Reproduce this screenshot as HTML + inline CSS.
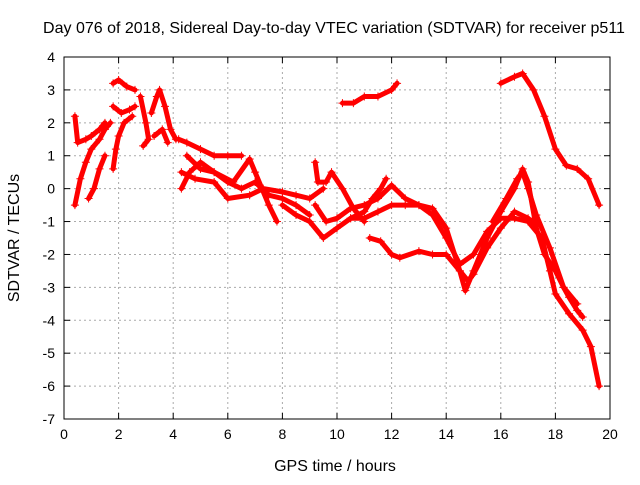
<!DOCTYPE html>
<html><head><meta charset="utf-8"><style>
body{margin:0;background:#fff;}
svg text{font-family:"Liberation Sans",sans-serif;font-size:14px;fill:#000;}
svg text.big{font-size:16px;}
</style></head><body>
<svg id="chart" width="640" height="480" xmlns="http://www.w3.org/2000/svg">
<rect width="640" height="480" fill="#fff"/>
<text class="big" x="334" y="33" text-anchor="middle">Day 076 of 2018, Sidereal Day-to-day VTEC variation (SDTVAR) for receiver p511</text>
<text class="big" x="335" y="471" text-anchor="middle">GPS time / hours</text>
<text class="big" transform="translate(19,238) rotate(-90)" text-anchor="middle">SDTVAR / TECUs</text>
<g id="grid"></g>
<g id="marks"></g>
<rect x="64" y="57" width="546" height="362" fill="none" stroke="#000" stroke-width="1"/>
</svg>
<script>
const xTicks=[0,2,4,6,8,10,12,14,16,18,20];
const yTicks=[4,3,2,1,0,-1,-2,-3,-4,-5,-6,-7];
const trackA=[[0.4,-0.5],[0.6,0.3],[0.8,0.8],[1.0,1.2],[1.3,1.5],[1.5,1.8],[1.7,2.0]];
const trackB=[[0.4,2.2],[0.5,1.4],[0.8,1.5],[1.0,1.6],[1.3,1.8],[1.5,2.0]];
const trackC=[[0.9,-0.3],[1.1,0.0],[1.3,0.6],[1.5,1.0]];
const trackD=[[1.8,0.6],[1.9,1.2],[2.0,1.6],[2.2,2.0],[2.5,2.2]];
const trackE=[[1.8,3.2],[2.0,3.3],[2.3,3.1],[2.6,3.0]];
const trackF=[[1.8,2.5],[2.1,2.3],[2.4,2.4],[2.6,2.5]];
const trackG=[[2.8,2.8],[3.0,2.0],[3.1,1.5],[2.9,1.3]];
const trackH=[[3.2,2.3],[3.4,2.8],[3.5,3.0],[3.7,2.5],[3.9,1.8],[4.1,1.5]];
const trackI=[[3.3,1.6],[3.6,1.8],[3.8,1.4]];
const trackJ=[[4.2,1.5],[4.5,1.4],[5.0,1.2],[5.5,1.0],[6.0,1.0],[6.5,1.0]];
const trackK=[[4.3,0.0],[4.6,0.5],[5.0,0.8],[5.5,0.5],[6.0,0.2],[6.5,0.0],[7.0,0.2],[7.5,-0.2],[8.0,-0.3],[8.5,-0.5],[9.0,-0.8]];
const trackL=[[4.3,0.5],[4.8,0.3],[5.5,0.2],[6.0,-0.3],[6.8,-0.2],[7.3,0.0],[8.0,-0.1],[8.5,-0.2],[9.0,-0.3],[9.5,0.0]];
const trackM=[[4.5,1.0],[5.0,0.6],[5.5,0.5],[6.2,0.2],[6.8,0.9],[7.0,0.5],[7.5,-0.5],[7.8,-1.0]];
const trackN=[[8.0,-0.5],[8.5,-0.8],[9.0,-1.0],[9.5,-1.5],[10,-1.2],[10.5,-0.9],[11,-0.9],[11.5,-0.7],[12,-0.5],[12.5,-0.5],[13,-0.5],[13.5,-0.8],[14,-1.5],[14.5,-2.3],[15,-2.0],[15.5,-1.3],[16,-0.9],[16.5,-0.9],[17,-1.0],[17.5,-1.5],[17.8,-2.5],[18,-3.2],[18.5,-3.8],[19,-4.3],[19.3,-4.8],[19.6,-6.0]];
const trackO=[[9.2,0.8],[9.3,0.2],[9.6,0.2],[9.8,0.5],[10.2,0.0],[10.6,-0.6],[11,-1.0]];
const trackP=[[9.2,-0.5],[9.6,-1.0],[10,-0.9],[10.5,-0.6],[11,-0.5],[11.5,-0.3],[12,0.1],[12.5,-0.3],[13,-0.5],[13.5,-0.6],[14,-1.2],[14.5,-2.5],[14.7,-3.1],[15,-2.5],[15.5,-1.5],[16,-0.7],[16.5,0.0],[16.8,0.6],[17,0.2],[17.3,-1.2],[17.6,-2.0],[18,-2.5],[18.3,-3.0],[18.5,-3.3],[18.8,-3.7],[19,-3.9]];
const trackQ=[[10.5,-0.9],[11,-0.7],[11.3,-0.3],[11.6,0.0],[11.8,0.3]];
const trackR=[[11.2,-1.5],[11.6,-1.6],[12,-2.0],[12.3,-2.1],[13,-1.9],[13.5,-2.0],[14,-2.0],[14.5,-2.5],[14.8,-2.8],[15,-2.6],[15.5,-1.8],[16,-1.2],[16.5,-0.7],[17,-0.9],[17.3,-1.1]];
const trackS=[[10.2,2.6],[10.6,2.6],[11,2.8],[11.5,2.8],[12,3.0],[12.2,3.2]];
const trackT=[[16,3.2],[16.5,3.4],[16.8,3.5],[17.2,3.0],[17.6,2.2],[18,1.2],[18.4,0.7],[18.8,0.6],[19.2,0.3],[19.6,-0.5]];
const trackU=[[15.7,-1.0],[16.2,-0.3],[16.6,0.3],[16.8,0.5],[17,0.0],[17.3,-0.8],[17.8,-1.8],[18.3,-3.0],[18.8,-3.5]];
const tracks=[trackA,trackB,trackC,trackD,trackE,trackF,trackG,trackH,trackI,trackJ,trackK,trackL,trackM,trackN,trackO,trackP,trackQ,trackR,trackS,trackT,trackU];

const X0=64,X1=610,Y0=57,Y1=419,xmin=0,xmax=20,ymin=-7,ymax=4;
const sx=v=>X0+(v-xmin)/(xmax-xmin)*(X1-X0);
const sy=v=>Y1-(v-ymin)/(ymax-ymin)*(Y1-Y0);
const NS="http://www.w3.org/2000/svg";
const grid=document.getElementById('grid'),marks=document.getElementById('marks');
function mk(t,a,p){const e=document.createElementNS(NS,t);for(const k in a)e.setAttribute(k,a[k]);p.appendChild(e);return e;}
xTicks.forEach(v=>{const x=sx(v);
 if(v>xmin&&v<xmax){const l=mk('line',{x1:x,x2:x,y1:Y0,y2:Y1,stroke:'#aaa','stroke-dasharray':'2,3'},grid);}
 mk('line',{x1:x,x2:x,y1:Y1,y2:Y1-6,stroke:'#000'},grid);mk('line',{x1:x,x2:x,y1:Y0,y2:Y0+6,stroke:'#000'},grid);
 const t=mk('text',{x:x,y:Y1+20,'text-anchor':'middle'},grid);t.textContent=v;
 });
yTicks.forEach(v=>{const y=sy(v);
 if(v>ymin&&v<ymax){const l=mk('line',{x1:X0,x2:X1,y1:y,y2:y,stroke:'#aaa','stroke-dasharray':'2,3'},grid);}
 mk('line',{x1:X0,x2:X0+6,y1:y,y2:y,stroke:'#000'},grid);mk('line',{x1:X1,x2:X1-6,y1:y,y2:y,stroke:'#000'},grid);
 const t=mk('text',{x:X0-9,y:y+5,'text-anchor':'end'},grid);t.textContent=v;
 });
tracks.forEach((tr,i)=>{
 const pts=tr.map(p=>sx(p[0]).toFixed(1)+','+sy(p[1]).toFixed(1)).join(' ');
 const pl=mk('polyline',{points:pts,fill:'none',stroke:'#f00','stroke-width':5,'stroke-linejoin':'round','stroke-linecap':'round'},marks);
 
 
 let d='';tr.forEach(p=>{const x=sx(p[0]),y=sy(p[1]);d+=`M${x-4},${y}h8M${x},${y-4}v8`;});
 const pm=mk('path',{d:d,stroke:'#f00','stroke-width':1},marks);
 
 
});
</script>
</body></html>
